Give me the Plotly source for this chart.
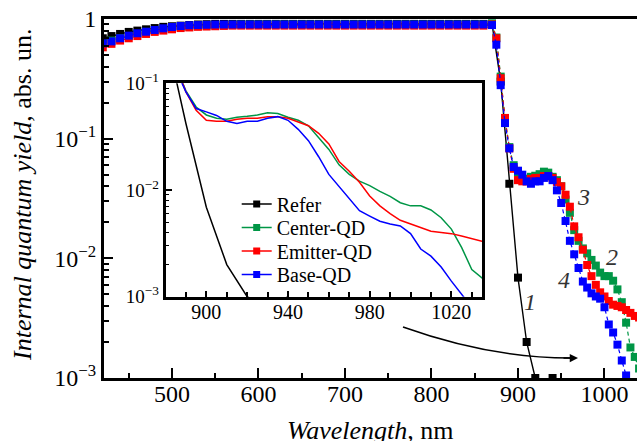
import plotly.graph_objects as go

# ---------------- data ----------------
wl_ref = [420, 430, 440, 450, 460, 470, 480, 490, 500, 510, 520, 530, 540, 550, 560,
          570, 580, 590, 600, 610, 620, 630, 640, 650, 660, 670, 680, 690, 700, 710,
          720, 730, 740, 750, 760, 770, 780, 790, 800, 810, 820, 830, 840, 850, 860,
          870, 880, 890, 900, 910, 920, 930, 940]
refer = [0.69, 0.72, 0.75, 0.78, 0.80, 0.82, 0.84, 0.86, 0.87, 0.88, 0.89, 0.90, 0.905, 0.91, 0.91,
         0.91, 0.91, 0.91, 0.91, 0.91, 0.91, 0.91, 0.91, 0.91, 0.91, 0.91, 0.91, 0.91, 0.91, 0.91,
         0.91, 0.91, 0.91, 0.91, 0.91, 0.91, 0.91, 0.91, 0.91, 0.91, 0.91, 0.91, 0.91, 0.91, 0.91,
         0.91, 0.30, 0.042, 0.0069, 0.0020, 0.00100, 0.0008, 0.00100]

wl_qd = [420, 430, 440, 450, 460, 470, 480, 490, 500, 510, 520, 530, 540, 550, 560,
         570, 580, 590, 600, 610, 620, 630, 640, 650, 660, 670, 680, 690, 700, 710,
         720, 730, 740, 750, 760, 770, 780, 790, 800, 810, 820, 830, 840, 850, 860,
         870, 875, 880, 885, 890, 895, 900, 905, 910, 915, 920, 925, 930, 935, 940,
         945, 950, 955, 960, 965, 970, 975, 980, 985, 990, 995, 1000, 1005, 1010, 1015,
         1020, 1025, 1030, 1035, 1040]

center_qd = [0.62, 0.66, 0.69, 0.72, 0.75, 0.78, 0.80, 0.82, 0.84, 0.855, 0.865, 0.875, 0.88, 0.885, 0.89,
             0.895, 0.90, 0.90, 0.90, 0.90, 0.90, 0.90, 0.90, 0.90, 0.90, 0.90, 0.90, 0.90, 0.90, 0.90,
             0.90, 0.90, 0.90, 0.90, 0.90, 0.90, 0.90, 0.90, 0.90, 0.90, 0.90, 0.90, 0.90, 0.90, 0.90,
             0.92, 0.70, 0.33, 0.145, 0.085, 0.060, 0.0505, 0.047, 0.046, 0.048, 0.049, 0.0505, 0.053, 0.052, 0.048,
             0.045, 0.040, 0.031, 0.024, 0.0172, 0.0140, 0.0121, 0.0110, 0.0097, 0.0087, 0.0076, 0.0071, 0.0071, 0.0065, 0.0055,
             0.0043, 0.0029, 0.0018, 0.0015, 0.0012]

emitter_qd = [0.58, 0.62, 0.66, 0.69, 0.72, 0.75, 0.78, 0.80, 0.82, 0.84, 0.85, 0.86, 0.865, 0.87, 0.875,
              0.88, 0.88, 0.88, 0.88, 0.88, 0.88, 0.88, 0.88, 0.88, 0.88, 0.88, 0.88, 0.88, 0.88, 0.88,
              0.88, 0.88, 0.88, 0.88, 0.88, 0.88, 0.88, 0.88, 0.88, 0.88, 0.88, 0.88, 0.88, 0.88, 0.88,
              0.90, 0.69, 0.32, 0.149, 0.083, 0.056, 0.045, 0.044, 0.044, 0.046, 0.047, 0.047, 0.0487, 0.0487, 0.047,
              0.0435, 0.040, 0.034, 0.027, 0.0185, 0.0150, 0.0118, 0.0088, 0.0071, 0.0060, 0.0052, 0.0048, 0.0044, 0.0041, 0.0040,
              0.0039, 0.0037, 0.0035, 0.0033, 0.0032]

base_qd = [0.626, 0.65, 0.69, 0.726, 0.76, 0.783, 0.81, 0.836, 0.857, 0.874, 0.886, 0.89, 0.895, 0.90, 0.90,
           0.90, 0.90, 0.90, 0.90, 0.90, 0.90, 0.90, 0.90, 0.90, 0.90, 0.90, 0.90, 0.90, 0.90, 0.90,
           0.90, 0.90, 0.90, 0.90, 0.90, 0.90, 0.90, 0.90, 0.90, 0.90, 0.90, 0.90, 0.90, 0.90, 0.90,
           0.89, 0.61, 0.28, 0.135, 0.083, 0.058, 0.054, 0.050, 0.044, 0.042, 0.044, 0.044, 0.047, 0.0487, 0.045,
           0.037, 0.029, 0.0205, 0.0140, 0.0108, 0.0083, 0.0064, 0.0057, 0.0051, 0.0048, 0.0046, 0.0039, 0.0028, 0.0024, 0.0019,
           0.0014, 0.00105, 0.0008, 0.0006, 0.0005]

series_names = ["Refer", "Center-QD", "Emitter-QD", "Base-QD"]
series_colors = ["#000000", "#009646", "#FF0000", "#0000FF"]

main_xticks = [500, 600, 700, 800, 900, 1000]
inset_xticks = [900, 940, 980, 1020]
y_tickvals = [0.001, 0.01, 0.1, 1]
y_ticktext = ["10<sup>\u22123</sup>", "10<sup>\u22122</sup>", "10<sup>\u22121</sup>", "1"]
y_minor = [k * 10.0 ** e for e in (-3, -2, -1) for k in range(2, 10)]

FONT = "Liberation Serif, Times New Roman, serif"

fig = go.Figure()

# ---------------- main plot ----------------
fig.add_trace(go.Scatter(x=wl_ref, y=refer, mode="lines+markers", showlegend=False,
                         line=dict(color=series_colors[0], width=1.4),
                         marker=dict(symbol="square", size=8, color=series_colors[0])))
for name, ys, col in zip(series_names[1:], [center_qd, emitter_qd, base_qd], series_colors[1:]):
    fig.add_trace(go.Scatter(x=wl_qd, y=ys, mode="lines+markers", showlegend=False,
                             line=dict(color=col, width=1.2, dash="4px,3px"),
                             marker=dict(symbol="square", size=8, color=col)))

# ---------------- inset ----------------
fig.add_trace(go.Scatter(x=wl_ref, y=refer, mode="lines", showlegend=False,
                         xaxis="x2", yaxis="y2",
                         line=dict(color=series_colors[0], width=1.5)))
for ys, col in zip([center_qd, emitter_qd, base_qd], series_colors[1:]):
    fig.add_trace(go.Scatter(x=wl_qd, y=ys, mode="lines", showlegend=False,
                             xaxis="x2", yaxis="y2",
                             line=dict(color=col, width=1.5)))

# legend entries (one legend per row for exact spacing)
legend_keys = ["legend", "legend2", "legend3", "legend4"]
row_y_px = [204, 227.5, 251, 274.5]
for name, col, key in zip(series_names, series_colors, legend_keys):
    fig.add_trace(go.Scatter(x=[None], y=[None], mode="lines+markers", name=name,
                             legend=key, xaxis="x2", yaxis="y2",
                             line=dict(color=col, width=1.5),
                             marker=dict(symbol="square", size=7, color=col)))

L, T, B, W, H = 104, 19, 63, 637, 441
PW, PH = W - L, H - T - B


def px_x(X):
    return (X - L) / PW


def px_y(Y):
    return (H - B - Y) / PH


legend_layout = {}
for key, ry in zip(legend_keys, row_y_px):
    legend_layout[key] = dict(x=px_x(236.7), y=px_y(ry), xanchor="left", yanchor="middle",
                              bgcolor="rgba(0,0,0,0)", borderwidth=0,
                              font=dict(family=FONT, size=20, color="black"))

fig.update_layout(
    width=W, height=H,
    margin=dict(l=L, r=0, t=T, b=B, autoexpand=False),
    paper_bgcolor="white", plot_bgcolor="white",
    font=dict(family=FONT, color="black"),
    xaxis=dict(range=[421.4, 1037.6], domain=[0, 1], anchor="y",
               tickmode="array", tickvals=main_xticks,
               ticks="inside", ticklen=10, tickwidth=2, tickcolor="black",
               minor=dict(ticks="inside", ticklen=5, tickwidth=1.5, tickcolor="black",
                          tickmode="linear", tick0=450, dtick=100),
               showline=True, linewidth=3, linecolor="black", mirror=True,
               showgrid=False, zeroline=False, ticklabelstandoff=-8,
               tickfont=dict(family=FONT, size=24, color="black")),
    yaxis=dict(type="log", range=[-3, 0], domain=[0, 1], anchor="x",
               tickmode="array", tickvals=y_tickvals, ticktext=y_ticktext,
               ticks="inside", ticklen=9, tickwidth=2, tickcolor="black",
               minor=dict(ticks="inside", ticklen=5, tickwidth=1.5, tickcolor="black",
                          tickmode="array", tickvals=y_minor),
               showline=True, linewidth=3, linecolor="black", mirror=False,
               showgrid=False, zeroline=False,
               tickfont=dict(family=FONT, size=24, color="black")),
    xaxis2=dict(range=[880, 1035], domain=[px_x(165.5), px_x(482)], anchor="y2",
                tickmode="array", tickvals=inset_xticks,
                ticks="inside", ticklen=6, tickwidth=1.5, tickcolor="black",
                minor=dict(ticks="inside", ticklen=5, tickwidth=1.5, tickcolor="black",
                           tickmode="linear", tick0=880, dtick=10),
                showline=True, linewidth=2.5, linecolor="black", mirror=True,
                showgrid=False, zeroline=False, ticklabelstandoff=-4,
                tickfont=dict(family=FONT, size=20, color="black")),
    yaxis2=dict(type="log", range=[-3, -1], domain=[px_y(296.7), px_y(83.3)], anchor="x2",
                tickmode="array", tickvals=y_tickvals[:3], ticktext=y_ticktext[:3],
                ticks="inside", ticklen=7, tickwidth=1.5, tickcolor="black",
                minor=dict(ticks="inside", ticklen=4, tickwidth=1.2, tickcolor="black",
                           tickmode="array", tickvals=y_minor[:16]),
                showline=True, linewidth=2.5, linecolor="black", mirror=True,
                showgrid=False, zeroline=False,
                tickfont=dict(family=FONT, size=19, color="black")),
    **legend_layout,
)

# axis titles
fig.add_annotation(text="<i>Wavelength</i>, nm", xref="paper", yref="paper",
                   x=px_x(370), y=px_y(430), xanchor="center", yanchor="middle",
                   showarrow=False, font=dict(family=FONT, size=26, color="black"))
fig.add_annotation(text="<i>Internal quantum yield</i>, abs. un.", xref="paper", yref="paper",
                   x=px_x(22), y=px_y(195), xanchor="center", yanchor="middle", textangle=-90,
                   showarrow=False, font=dict(family=FONT, size=26, color="black"))

# curve numbers
labels = [("1", 913.9, -2.364), ("2", 1008.5, -1.986), ("3", 975.5, -1.485), ("4", 953.2, -2.18)]
for t, lx, ly in labels:
    fig.add_annotation(text="<i>%s</i>" % t, x=lx, y=ly, xref="x", yref="y",
                       showarrow=False, font=dict(family=FONT, size=24, color="#333333"))

# curved arrow from inset to the tail
x0, y0 = px_x(403), px_y(327)
xc, yc = px_x(490), px_y(358)
x1, y1 = px_x(570), px_y(358)
fig.add_shape(type="path", xref="paper", yref="paper",
              path="M %f,%f Q %f,%f %f,%f" % (x0, y0, xc, yc, x1, y1),
              line=dict(color="black", width=1.5))
fig.add_annotation(x=px_x(578), y=px_y(358), xref="paper", yref="paper",
                   ax=-16, ay=0, axref="pixel", ayref="pixel", text="",
                   showarrow=True, arrowhead=2, arrowsize=1.1, arrowwidth=1.5,
                   arrowcolor="black")

fig.write_html("out.html", config={"displayModeBar": False},
               post_script="document.body.style.margin='0px';")
